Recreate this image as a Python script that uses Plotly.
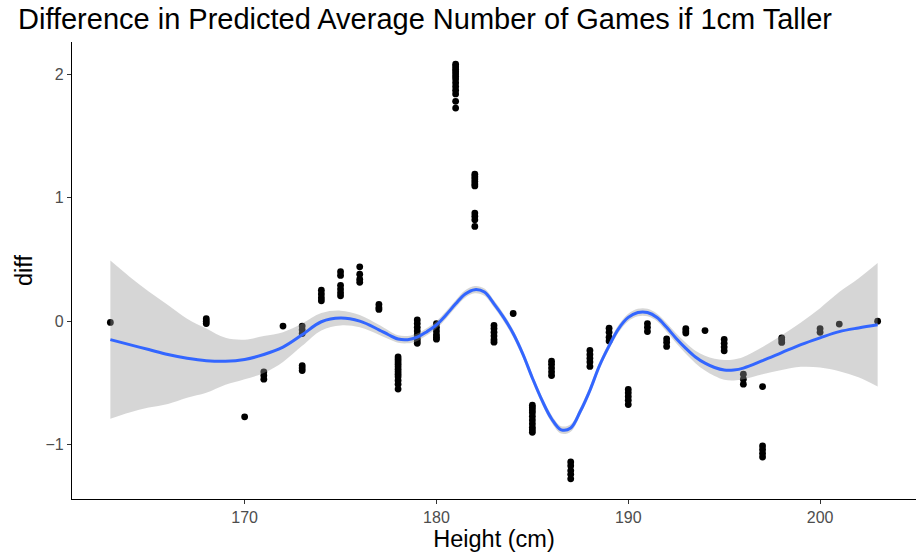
import plotly.graph_objects as go

# Observed differences, grouped by player height (cm)
heights = [163, 168, 170, 171, 172, 173, 174, 175, 176, 177, 178, 179, 180,
           181, 182, 183, 184, 185, 186, 187, 188, 189, 190, 191, 192, 193,
           194, 195, 196, 197, 198, 200, 201, 203]
diffs = [
    [-0.01],
    [0.02, 0.0, -0.02],
    [-0.775],
    [-0.41, -0.44, -0.47],
    [-0.04],
    [-0.04, -0.07, -0.10, -0.36, -0.38, -0.40],
    [0.25, 0.22, 0.19, 0.165],
    [0.40, 0.37, 0.29, 0.26, 0.23, 0.205],
    [0.44, 0.38, 0.34, 0.315],
    [0.135, 0.11, 0.095],
    [-0.29, -0.31, -0.33, -0.35, -0.37, -0.39, -0.41, -0.43, -0.45, -0.48, -0.51, -0.55],
    [0.01, -0.02, -0.05, -0.08, -0.11, -0.14, -0.16, -0.18],
    [-0.02, -0.05, -0.08, -0.11, -0.13, -0.146],
    [2.08, 2.06, 2.04, 2.02, 2.0, 1.98, 1.96, 1.93, 1.90, 1.87, 1.84, 1.78, 1.725],
    [1.19, 1.17, 1.15, 1.13, 1.11, 1.095, 0.875, 0.85, 0.82, 0.767],
    [-0.035, -0.06, -0.09, -0.12, -0.15, -0.17],
    [0.062],
    [-0.68, -0.70, -0.72, -0.74, -0.77, -0.80, -0.83, -0.86, -0.88, -0.90],
    [-0.324, -0.35, -0.38, -0.41, -0.44],
    [-1.14, -1.17, -1.21, -1.24, -1.277],
    [-0.237, -0.27, -0.30, -0.33, -0.367],
    [-0.057, -0.09, -0.13, -0.16],
    [-0.553, -0.58, -0.61, -0.64, -0.675],
    [-0.02, -0.05, -0.084],
    [-0.143, -0.17, -0.205],
    [-0.06, -0.08, -0.097],
    [-0.076],
    [-0.148, -0.18, -0.21, -0.24],
    [-0.43, -0.47, -0.51],
    [-0.53, -1.01, -1.04, -1.07, -1.10],
    [-0.135, -0.15, -0.172],
    [-0.06, -0.09],
    [-0.024],
    [0.0],
]

# Smoothed trend and half-width of its confidence band
smooth_x = [163, 164, 165, 166, 167, 168, 169, 170, 171, 172, 173, 174, 175,
            176, 177, 177.5, 178, 178.5, 179, 179.5, 180, 180.5, 181, 181.5,
            182, 182.5, 183, 183.5, 184, 184.5, 185, 185.5, 186, 186.5, 187,
            187.5, 188, 188.5, 189, 189.5, 190, 190.5, 191, 191.5, 192, 192.5,
            193, 193.5, 194, 194.5, 195, 195.5, 196, 197, 198, 199, 200, 201,
            202, 203]
smooth_y = [-0.15, -0.19, -0.23, -0.27, -0.30, -0.32, -0.325, -0.31, -0.27,
            -0.21, -0.11, -0.005, 0.025, 0.0, -0.07, -0.11, -0.145, -0.15,
            -0.13, -0.085, -0.03, 0.05, 0.14, 0.22, 0.255, 0.235, 0.14, 0.03,
            -0.10, -0.265, -0.46, -0.64, -0.79, -0.88, -0.865, -0.73, -0.56,
            -0.36, -0.20, -0.06, 0.03, 0.07, 0.07, 0.03, -0.05, -0.14, -0.22,
            -0.29, -0.34, -0.375, -0.395, -0.395, -0.38, -0.32, -0.255, -0.19,
            -0.135, -0.085, -0.055, -0.03]
band_hw = [0.64, 0.55, 0.47, 0.40, 0.32, 0.26, 0.19, 0.16, 0.15, 0.12, 0.09,
           0.07, 0.06, 0.05, 0.04, 0.035, 0.03, 0.03, 0.03, 0.03, 0.03, 0.03,
           0.03, 0.03, 0.03, 0.03, 0.03, 0.03, 0.03, 0.03, 0.03, 0.03, 0.03,
           0.03, 0.03, 0.03, 0.03, 0.03, 0.03, 0.03, 0.03, 0.03, 0.03, 0.03,
           0.035, 0.04, 0.045, 0.05, 0.06, 0.07, 0.08, 0.085, 0.09, 0.11, 0.14,
           0.18, 0.24, 0.32, 0.40, 0.50]

x_ticks = [170, 180, 190, 200]
y_ticks = [-1, 0, 1, 2]

pts_x = [h for h, vals in zip(heights, diffs) for _ in vals]
pts_y = [v for vals in diffs for v in vals]
upper = [m + w for m, w in zip(smooth_y, band_hw)]
lower = [m - w for m, w in zip(smooth_y, band_hw)]

fig = go.Figure()
fig.add_trace(go.Scatter(
    x=pts_x, y=pts_y, mode="markers",
    marker=dict(color="black", size=6.8, line=dict(width=0)),
    hoverinfo="skip"))
fig.add_trace(go.Scatter(
    x=smooth_x, y=upper, mode="lines", line=dict(width=0, shape="spline"),
    hoverinfo="skip"))
fig.add_trace(go.Scatter(
    x=smooth_x, y=lower, mode="lines", line=dict(width=0, shape="spline"),
    fill="tonexty", fillcolor="rgba(153,153,153,0.4)", hoverinfo="skip"))
fig.add_trace(go.Scatter(
    x=smooth_x, y=smooth_y, mode="lines",
    line=dict(color="#3366FF", width=3, shape="spline"), hoverinfo="skip"))

axis_common = dict(
    showgrid=False, zeroline=False, showline=True, linecolor="black",
    linewidth=1.3, ticks="outside", ticklen=4, tickwidth=1.1,
    tickcolor="#333333", tickfont=dict(size=16, color="#4D4D4D"),
)
fig.update_layout(
    width=924, height=557,
    margin=dict(l=72, r=8, t=42, b=58),
    paper_bgcolor="white", plot_bgcolor="white",
    showlegend=False,
    font=dict(family="Liberation Sans, Arial, sans-serif"),
    title=dict(text="Difference in Predicted Average Number of Games if 1cm Taller",
               x=18 / 924, xanchor="left", xref="container",
               y=1 - 19 / 557, yanchor="middle", yref="container",
               font=dict(size=29, color="black")),
    xaxis=dict(range=[161, 205], tickvals=x_ticks,
               title=dict(text="Height (cm)", font=dict(size=23.5, color="black"),
                          standoff=3),
               **axis_common),
    yaxis=dict(range=[-1.44, 2.26], tickvals=y_ticks,
               title=dict(text="diff", font=dict(size=23.5, color="black"),
                          standoff=6),
               **axis_common),
)

fig.write_html("out.html")
